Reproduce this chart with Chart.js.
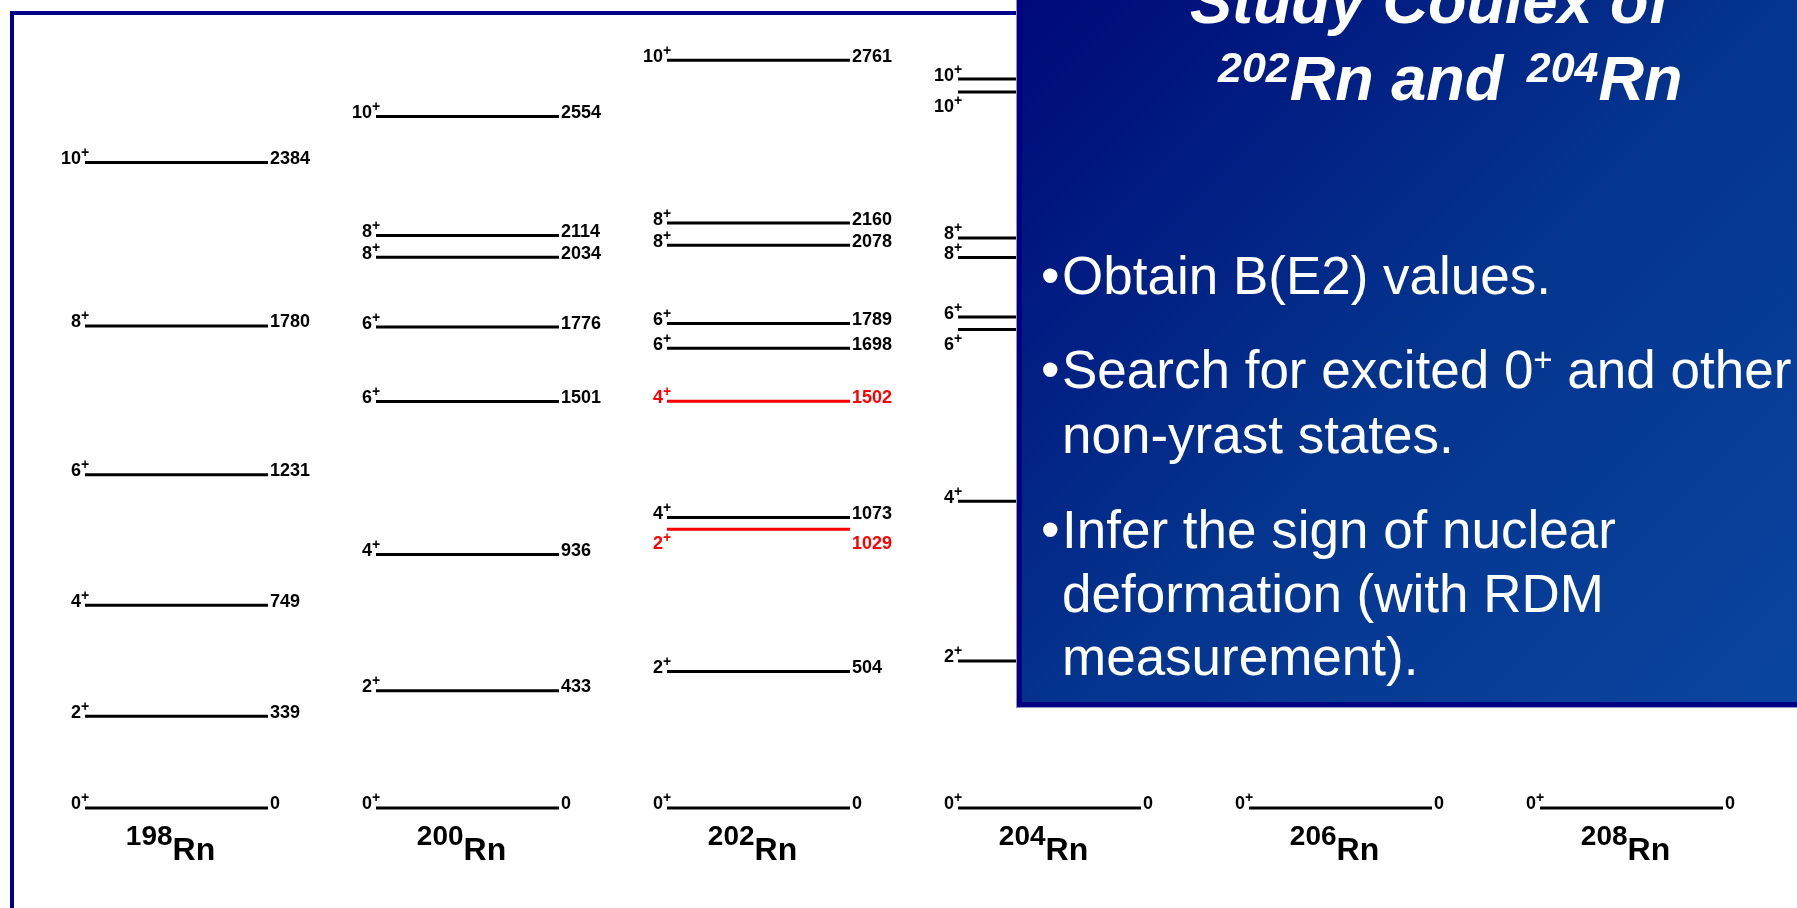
<!DOCTYPE html>
<html>
<head>
<meta charset="utf-8">
<script src="https://cdn.jsdelivr.net/npm/chart.js@4.4.1/dist/chart.umd.min.js"></script>
<style>
  html, body { margin: 0; padding: 0; background: #fff; overflow: hidden; }
  body { width: 1797px; height: 908px; position: relative; font-family: "Liberation Sans", Arial, sans-serif; }
  #frame { position: absolute; left: 10px; top: 11px; width: 1900px; height: 1000px; border: 4px solid #00008b; box-sizing: border-box; }
  #levelChart { position: absolute; left: 0; top: 0; }
  #panel {
    position: absolute; left: 1017px; top: -20px; width: 820px; height: 727px;
    box-sizing: border-box; border: 5px solid #000080;
    box-shadow: 0 0 0 1px #9090c8;
    background: linear-gradient(135deg, #00087a 0%, #00167f 16%, #04348e 50%, #0a46a0 100%);
  }
  .t { position: absolute; color: #fff; white-space: nowrap; }
  .title { font: italic bold 63px/63px "Liberation Sans", Arial, sans-serif; }
  .title .sup { font-size: 43px; line-height: 0; position: relative; top: -18px; }
  .title .gap { margin-left: 6px; }
  .bul { font: 53px/53px "Liberation Sans", Arial, sans-serif; }
  .bul .sup { font-size: 33px; line-height: 0; position: relative; top: -17px; }
</style>
</head>
<body>
<div id="frame"></div>
<canvas id="levelChart" width="1797" height="908"></canvas>

<div id="panel"></div>
<div class="t title" style="left:1190px; top:-30px;">Study Coulex of</div>
<div class="t title" style="left:1218px; top:47px;"><span class="sup">202</span>Rn and <span class="sup gap">204</span>Rn</div>

<div class="t bul" style="left:1041px; top:249px;">•</div>
<div class="t bul" style="left:1062px; top:249px;">Obtain B(E2) values.</div>
<div class="t bul" style="left:1041px; top:343px;">•</div>
<div class="t bul" style="left:1062px; top:343px;">Search for excited 0<span class="sup">+</span> and other</div>
<div class="t bul" style="left:1062px; top:408px;">non-yrast states.</div>
<div class="t bul" style="left:1041px; top:503px;">•</div>
<div class="t bul" style="left:1062px; top:503px;">Infer the sign of nuclear</div>
<div class="t bul" style="left:1062px; top:567px;">deformation (with RDM</div>
<div class="t bul" style="left:1062px; top:630px;">measurement).</div>

<script>
// mass numbers of the radon isotopes, one column each
const isotopes = ["198", "200", "202", "204", "206", "208"];

const rn198Energy = [0, 339, 749, 1231, 1780, 2384];
const rn198Spin = ["0", "2", "4", "6", "8", "10"];
const rn200Energy = [0, 433, 936, 1501, 1776, 2034, 2114, 2554];
const rn200Spin = ["0", "2", "4", "6", "6", "8", "8", "10"];
const rn202Energy = [0, 504, 1029, 1073, 1502, 1698, 1789, 2078, 2160, 2761];
const rn202Spin = ["0", "2", "2", "4", "4", "6", "6", "8", "8", "10"];
const rn204Energy = [0, 543, 1133, 1767, 1813, 2033, 2105, 2644, 2692];
const rn204Spin = ["0", "2", "4", "6", "6", "8", "8", "10", "10"];
const rn206Energy = [0];
const rn206Spin = ["0"];
const rn208Energy = [0];
const rn208Spin = ["0"];

// newly observed states in 202Rn (drawn red)
const rn202NewStates = [1029, 1502];

const levels = [
  { energy: rn198Energy, spin: rn198Spin, fresh: [] },
  { energy: rn200Energy, spin: rn200Spin, fresh: [] },
  { energy: rn202Energy, spin: rn202Spin, fresh: rn202NewStates },
  { energy: rn204Energy, spin: rn204Spin, fresh: [] },
  { energy: rn206Energy, spin: rn206Spin, fresh: [] },
  { energy: rn208Energy, spin: rn208Spin, fresh: [] }
];

// layout: levels whose labels sit under the line
const labelsBelow = { 2: [1029], 3: [1767, 2644] };
const halfWidth = 0.3144;
const FONT = '"Liberation Sans", Arial, sans-serif';

function segments(pick) {
  const pts = [];
  levels.forEach((lv, i) => {
    lv.energy.forEach((e) => {
      if (pick(lv, e)) {
        pts.push({ x: i - halfWidth, y: e }, { x: i + halfWidth, y: e }, { x: i, y: null });
      }
    });
  });
  return pts;
}

const levelLabels = {
  id: "levelLabels",
  afterDatasetsDraw(chart) {
    const { ctx } = chart;
    const xs = chart.scales.x;
    const ys = chart.scales.y;
    ctx.save();
    ctx.textBaseline = "alphabetic";
    levels.forEach((lv, i) => {
      const x0 = xs.getPixelForValue(i - halfWidth);
      const x1 = xs.getPixelForValue(i + halfWidth);
      const below = labelsBelow[i] || [];
      lv.energy.forEach((e, k) => {
        const py = ys.getPixelForValue(e);
        const base = below.includes(e) ? py + 20 : py + 1.5;
        ctx.fillStyle = lv.fresh.includes(e) ? "#ff0000" : "#000";
        ctx.font = "bold 18px " + FONT;
        ctx.textAlign = "right";
        ctx.fillText(lv.spin[k], x0 - 4, base);
        ctx.font = "bold 14px " + FONT;
        ctx.textAlign = "left";
        ctx.fillText("+", x0 - 4, base - 7);
        ctx.font = "bold 18px " + FONT;
        ctx.fillText(String(e), x1 + 2, base);
      });

      // isotope name under the ground state
      const y0 = ys.getPixelForValue(0);
      const cx = xs.getPixelForValue(i) - 6;
      ctx.fillStyle = "#000";
      ctx.font = "bold 28px " + FONT;
      const wA = ctx.measureText(isotopes[i]).width;
      ctx.font = "bold 32px " + FONT;
      const wB = ctx.measureText("Rn").width;
      const left = cx - (wA + wB) / 2;
      ctx.font = "bold 28px " + FONT;
      ctx.fillText(isotopes[i], left, y0 + 37);
      ctx.font = "bold 32px " + FONT;
      ctx.fillText("Rn", left + wA, y0 + 52);
    });
    ctx.restore();
  }
};

new Chart(document.getElementById("levelChart"), {
  type: "scatter",
  data: {
    datasets: [
      {
        data: segments((lv, e) => !lv.fresh.includes(e)),
        showLine: true,
        spanGaps: false,
        borderColor: "#000",
        borderWidth: 3,
        pointRadius: 0
      },
      {
        data: segments((lv, e) => lv.fresh.includes(e)),
        showLine: true,
        spanGaps: false,
        borderColor: "#ff0000",
        borderWidth: 3,
        pointRadius: 0
      }
    ]
  },
  options: {
    responsive: false,
    animation: false,
    layout: { padding: 0 },
    scales: {
      x: { type: "linear", min: -0.6065, max: 5.5687, display: false },
      y: { type: "linear", min: -369.3, max: 2983.8, display: false }
    },
    plugins: {
      legend: { display: false },
      tooltip: { enabled: false }
    }
  },
  plugins: [levelLabels]
});
</script>
</body>
</html>
